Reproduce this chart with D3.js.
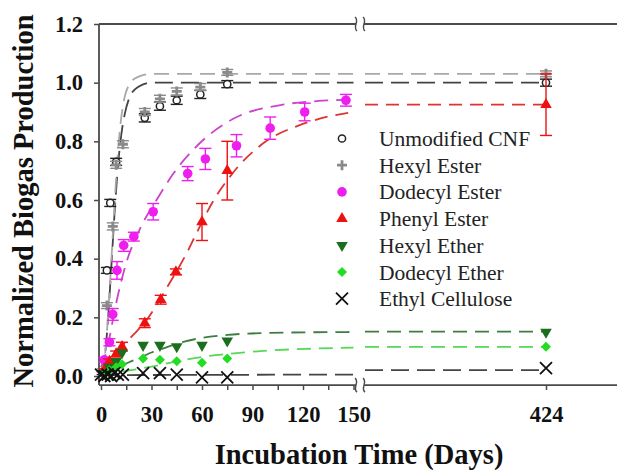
<!DOCTYPE html>
<html>
<head>
<meta charset="utf-8">
<script src="https://cdn.jsdelivr.net/npm/d3@7"></script>
<style>
  body { margin: 0; background: #fff; }
  svg { display: block; font-family: "Liberation Serif", "Times New Roman", serif; }
</style>
</head>
<body>
<svg width="617" height="471"></svg>
<script>
// ---- measured points (days, normalized biogas) ----
const cnfDays = [1, 3.5, 5.5, 9, 26, 35, 45, 59, 75, 424];
const cnfVals = [0.01, 0.36, 0.59, 0.73, 0.88, 0.92, 0.94, 0.96, 0.995, 1.0];
const cnfErr = [0.005, 0.01, 0.012, 0.012, 0.014, 0.014, 0.014, 0.014, 0.012, 0.012];

const hexEstDays = [1, 3.5, 7, 9, 13, 26, 35, 45, 59, 75, 424];
const hexEstVals = [0.02, 0.24, 0.51, 0.72, 0.79, 0.9, 0.945, 0.97, 0.985, 1.035, 1.03];
const hexEstErr = [0.005, 0.01, 0.012, 0.012, 0.012, 0.012, 0.012, 0.012, 0.012, 0.01, 0.01];

const dodEstDays = [2, 5, 7, 9.5, 13.5, 19.5, 31, 51.5, 62, 80.5, 100.5, 121, 145.5];
const dodEstVals = [0.055, 0.115, 0.21, 0.36, 0.445, 0.475, 0.56, 0.69, 0.74, 0.785, 0.845, 0.9, 0.94];
const dodEstErr = [0.008, 0.012, 0.02, 0.03, 0.02, 0.015, 0.028, 0.024, 0.036, 0.038, 0.038, 0.03, 0.02];

const phenDays = [2, 5, 9, 12.5, 26, 35.5, 44.5, 60, 75, 424];
const phenVals = [0.02, 0.05, 0.075, 0.1, 0.18, 0.26, 0.355, 0.525, 0.7, 0.925];
const phenErr = [0.005, 0.008, 0.01, 0.015, 0.015, 0.015, 0.01, 0.063, 0.1, 0.105];

const hexEthDays = [2, 5, 9, 12.5, 25, 35, 45, 60, 75, 424];
const hexEthVals = [0.01, 0.03, 0.05, 0.08, 0.105, 0.105, 0.1, 0.105, 0.12, 0.15];

const dodEthDays = [2, 5, 9, 12.5, 25, 35, 45, 60, 75, 424];
const dodEthVals = [0.005, 0.02, 0.03, 0.04, 0.06, 0.055, 0.05, 0.045, 0.06, 0.1];

const ethDays = [0, 2, 4, 6, 8, 10, 13, 25, 35, 45, 60, 75, 424];
const ethVals = [0.005, 0, 0.005, 0, 0.01, 0.005, 0.005, 0.01, 0.01, 0.005, -0.005, -0.005, 0.027];

// ---- fitted curves (first axis segment) ----
const cnfFitDays = [0, 2, 4, 6, 8, 10, 12, 14, 17, 22, 30, 150];
const cnfFitVals = [0, 0.05, 0.18, 0.36, 0.55, 0.71, 0.82, 0.89, 0.95, 0.985, 1.0, 1.0];
const hexEstFitDays = [0, 2, 4, 6, 8, 10, 12, 14, 17, 22, 30, 150];
const hexEstFitVals = [0, 0.05, 0.19, 0.38, 0.58, 0.76, 0.88, 0.95, 0.995, 1.02, 1.03, 1.03];
const dodEstFitDays = [0, 2, 5, 8, 15, 23, 33, 43, 58, 78, 108, 128, 150];
const dodEstFitVals = [0.03, 0.06, 0.13, 0.22, 0.385, 0.5, 0.6, 0.69, 0.79, 0.875, 0.925, 0.937, 0.942];
const phenFitDays = [0, 10, 20, 27, 39, 51, 57, 66, 78, 98, 118, 134, 150];
const phenFitVals = [0.03, 0.09, 0.145, 0.19, 0.3, 0.42, 0.49, 0.59, 0.69, 0.8, 0.855, 0.883, 0.9];
const hexEthFitDays = [0, 10, 20, 30, 40, 50, 60, 75, 100, 150];
const hexEthFitVals = [0, 0.03, 0.055, 0.08, 0.1, 0.118, 0.13, 0.14, 0.147, 0.15];
const dodEthFitDays = [0, 10, 20, 30, 45, 60, 75, 100, 125, 150];
const dodEthFitVals = [0, 0.012, 0.022, 0.032, 0.05, 0.065, 0.075, 0.087, 0.093, 0.097];
const ethFitDays = [0, 150];
const ethFitVals = [0.003, 0.005];

// level of each fit beyond the axis break
const tailVals = { cnf: 1.0, hexEst: 1.03, phen: 0.925, hexEth: 0.151, dodEth: 0.099, eth: 0.02 };

const yTicks = [0, 0.2, 0.4, 0.6, 0.8, 1.0, 1.2];
const xTicksA = [0, 15, 30, 45, 60, 75, 90, 105, 120, 135, 150];
const xTicksB = [424];
const legendNames = ['Unmodified CNF', 'Hexyl Ester', 'Dodecyl Ester', 'Phenyl Ester', 'Hexyl Ether', 'Dodecyl Ether', 'Ethyl Cellulose'];

// ---- scales ----
var svg = d3.select('svg');
var xA = d3.scaleLinear().domain([0, 150]).range([101, 353.5]);
var xB = d3.scaleLinear().domain([300, 424]).range([365, 546]);
var xPos = function (d) { return d > 200 ? xB(d) : xA(d); };
var y = d3.scaleLinear().domain([0, 1.2]).range([376, 24]);
var yBottom = y(-0.031);
var axisColor = '#4a4a4a';
var breakX = 359;

// ---- series styling ----
var series = [
  { key: 'cnf', days: cnfDays, vals: cnfVals, err: cnfErr, shape: 'circle', color: '#222', fitDays: cnfFitDays, fitVals: cnfFitVals, fitColor: '#444', dash: '18,8' },
  { key: 'hexEst', days: hexEstDays, vals: hexEstVals, err: hexEstErr, shape: 'plus', color: '#8a8a8a', fitDays: hexEstFitDays, fitVals: hexEstFitVals, fitColor: '#a8a8a8', dash: '15,8' },
  { key: 'dodEst', days: dodEstDays, vals: dodEstVals, err: dodEstErr, shape: 'dot', color: '#ee1fee', fitDays: dodEstFitDays, fitVals: dodEstFitVals, fitColor: '#cc44cc', dash: '14,8' },
  { key: 'phen', days: phenDays, vals: phenVals, err: phenErr, shape: 'triangle', color: '#ee1111', fitDays: phenFitDays, fitVals: phenFitVals, fitColor: '#dd3333', dash: '13,8' },
  { key: 'hexEth', days: hexEthDays, vals: hexEthVals, err: null, shape: 'triDown', color: '#1b6e1b', fitDays: hexEthFitDays, fitVals: hexEthFitVals, fitColor: '#3d7d3d', dash: '14,8' },
  { key: 'dodEth', days: dodEthDays, vals: dodEthVals, err: null, shape: 'diamond', color: '#22dd22', fitDays: dodEthFitDays, fitVals: dodEthFitVals, fitColor: '#55d855', dash: '14,8' },
  { key: 'eth', days: ethDays, vals: ethVals, err: null, shape: 'x', color: '#111', fitDays: ethFitDays, fitVals: ethFitVals, fitColor: '#444', dash: '18,8' }
];

function drawMarker(g, shape, color) {
  if (shape === 'circle') {
    g.append('circle').attr('r', 3.6).attr('fill', '#fff').attr('stroke', color).attr('stroke-width', 1.5);
  } else if (shape === 'plus') {
    g.append('path').attr('d', 'M-5,0H5M0,-5V5').attr('stroke', color).attr('stroke-width', 2.8);
  } else if (shape === 'dot') {
    g.append('circle').attr('r', 4.8).attr('fill', color);
  } else if (shape === 'triangle') {
    g.append('path').attr('d', d3.symbol(d3.symbolTriangle, 58)).attr('fill', color);
  } else if (shape === 'triDown') {
    g.append('path').attr('d', d3.symbol(d3.symbolTriangle, 58)).attr('transform', 'rotate(180)').attr('fill', color);
  } else if (shape === 'diamond') {
    g.append('path').attr('d', d3.symbol(d3.symbolSquare, 50)).attr('transform', 'rotate(45)').attr('fill', color);
  } else if (shape === 'x') {
    g.append('path').attr('d', 'M-6,-6L6,6M-6,6L6,-6').attr('stroke', color).attr('stroke-width', 1.8);
  }
}

// ---- fit curves ----
var fitLine = d3.line()
  .x(function (d) { return xA(d[0]); })
  .y(function (d) { return y(d[1]); })
  .curve(d3.curveMonotoneX);

var fits = svg.append('g').attr('class', 'fits').attr('fill', 'none');
series.forEach(function (s) {
  fits.append('path')
    .datum(d3.zip(s.fitDays, s.fitVals))
    .attr('d', fitLine)
    .attr('stroke', s.fitColor)
    .attr('stroke-width', 1.8)
    .attr('stroke-dasharray', s.dash);
  if (tailVals[s.key] !== undefined) {
    fits.append('line')
      .attr('x1', xB(xB.domain()[0])).attr('x2', xB(424))
      .attr('y1', y(tailVals[s.key])).attr('y2', y(tailVals[s.key]))
      .attr('stroke', s.fitColor)
      .attr('stroke-width', 1.8)
      .attr('stroke-dasharray', s.dash);
  }
});

// ---- axes ----
var axisG = svg.append('g').attr('class', 'axes');
axisG.append('line').attr('x1', 99).attr('x2', 99).attr('y1', y(1.2)).attr('y2', yBottom)
  .attr('stroke', axisColor).attr('stroke-width', 1.8);
[y(1.2), yBottom].forEach(function (yy) {
  axisG.append('line').attr('x1', 99).attr('x2', breakX - 3).attr('y1', yy).attr('y2', yy)
    .attr('stroke', axisColor).attr('stroke-width', 1.8);
  axisG.append('line').attr('x1', breakX + 5).attr('x2', 617).attr('y1', yy).attr('y2', yy)
    .attr('stroke', axisColor).attr('stroke-width', 1.8);
  [breakX - 3, breakX + 5].forEach(function (bx) {
    axisG.append('path')
      .attr('d', 'M' + (bx - 1) + ',' + (yy - 7) + 'C' + (bx + 4) + ',' + (yy - 3) + ' ' + (bx - 4) + ',' + (yy + 3) + ' ' + (bx + 1) + ',' + (yy + 7))
      .attr('fill', 'none').attr('stroke', axisColor).attr('stroke-width', 1.4);
  });
});

var yAxis = axisG.append('g')
  .attr('transform', 'translate(99,0)')
  .call(d3.axisLeft(y).tickValues(yTicks).tickFormat(d3.format('.1f')).tickSize(5).tickPadding(11));

var xAxisA = axisG.append('g')
  .attr('transform', 'translate(0,' + yBottom + ')')
  .call(d3.axisBottom(xA).tickValues(xTicksA).tickSize(5).tickPadding(16)
    .tickFormat(function (d) { return d % 30 === 0 ? d : ''; }));

var xAxisB = axisG.append('g')
  .attr('transform', 'translate(0,' + yBottom + ')')
  .call(d3.axisBottom(xB).tickValues(xTicksB).tickSize(5).tickPadding(16));

[yAxis, xAxisA, xAxisB].forEach(function (a) {
  a.select('.domain').remove();
  a.selectAll('.tick line').attr('stroke', axisColor).attr('stroke-width', 1.5);
  a.selectAll('.tick text')
    .attr('fill', '#111')
    .style('font-family', '"Liberation Serif", "Times New Roman", serif')
    .style('font-size', '22.5px')
    .style('font-weight', 'bold');
});

// ---- error bars and markers ----
var marks = svg.append('g').attr('class', 'marks');
series.forEach(function (s) {
  var pts = d3.zip(s.days, s.vals, s.err || s.days.map(function () { return 0; }));
  var g = marks.append('g');
  pts.forEach(function (p) {
    if (p[2] > 0) {
      var cx = xPos(p[0]);
      var e = g.append('g').attr('stroke', s.color).attr('stroke-width', 1.4);
      e.append('line').attr('x1', cx).attr('x2', cx).attr('y1', y(p[1] - p[2])).attr('y2', y(p[1] + p[2]));
      e.append('line').attr('x1', cx - 6).attr('x2', cx + 6).attr('y1', y(p[1] - p[2])).attr('y2', y(p[1] - p[2]));
      e.append('line').attr('x1', cx - 6).attr('x2', cx + 6).attr('y1', y(p[1] + p[2])).attr('y2', y(p[1] + p[2]));
    }
  });
  pts.forEach(function (p) {
    var m = g.append('g').attr('transform', 'translate(' + xPos(p[0]) + ',' + y(p[1]) + ')');
    drawMarker(m, s.shape, s.color);
  });
});

// ---- legend ----
var legend = svg.append('g').attr('class', 'legend');
series.forEach(function (s, i) {
  var row = legend.append('g').attr('transform', 'translate(0,' + (138.5 + i * 26.7) + ')');
  var m = row.append('g').attr('transform', 'translate(342,0)');
  drawMarker(m, s.shape, s.color);
  row.append('text')
    .attr('x', 379)
    .attr('dy', '0.35em')
    .attr('fill', '#222')
    .style('font-size', '21.5px')
    .text(legendNames[i]);
});

// ---- titles ----
svg.append('text')
  .attr('x', 359)
  .attr('y', 464)
  .attr('text-anchor', 'middle')
  .attr('fill', '#111')
  .style('font-size', '28.5px')
  .style('font-weight', 'bold')
  .text('Incubation Time (Days)');

svg.append('text')
  .attr('transform', 'translate(33,201) rotate(-90)')
  .attr('text-anchor', 'middle')
  .attr('fill', '#111')
  .style('font-size', '28.5px')
  .style('font-weight', 'bold')
  .text('Normalized Biogas Production');
</script>
</body>
</html>
